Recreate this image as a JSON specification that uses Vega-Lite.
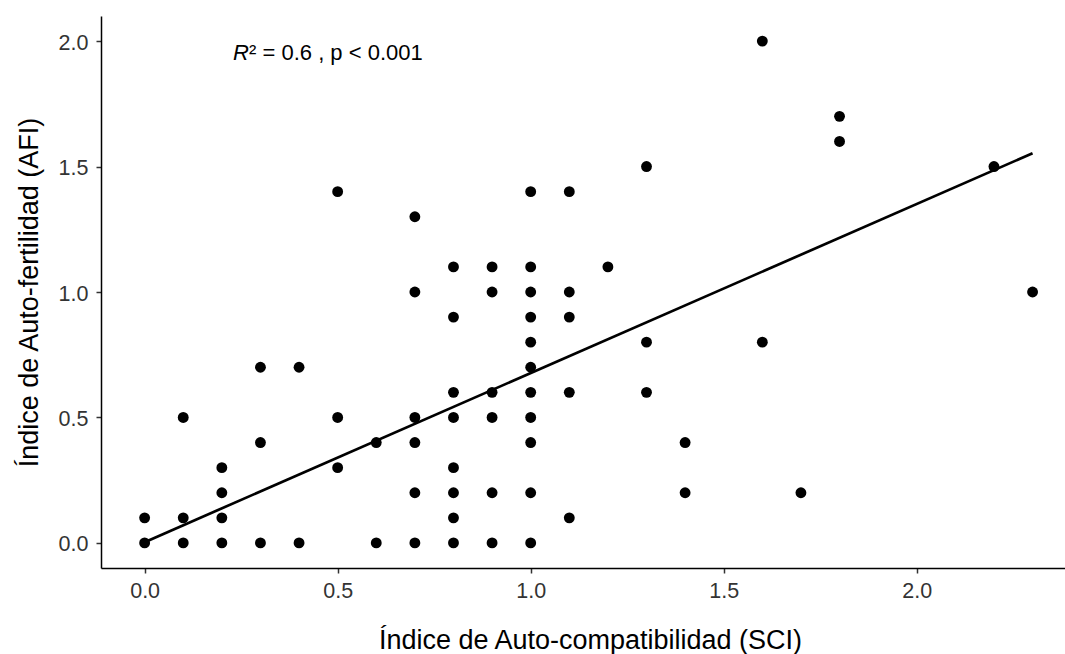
{
  "$schema": "https://vega.github.io/schema/vega-lite/v6.json",
  "autosize": {"type": "none"},
  "padding": {"left": 101, "top": 16, "right": 0, "bottom": 86},
  "width": 964,
  "height": 552,
  "background": "white",
  "config": {
    "view": {"stroke": null},
    "font": "Liberation Sans",
    "axis": {
      "grid": false,
      "domainColor": "#000000",
      "domainWidth": 1.5,
      "tickColor": "#333333",
      "tickWidth": 1.5,
      "tickSize": 5,
      "labelFont": "Liberation Sans",
      "labelFontSize": 21.5,
      "labelColor": "#333333",
      "titleFont": "Liberation Sans",
      "titleFontSize": 27,
      "titleFontWeight": "normal",
      "titleColor": "#000000"
    }
  },
  "datasets": {
    "puntos": [
      {"sci": 0.0, "afi": 0.0}, {"sci": 0.0, "afi": 0.1},
      {"sci": 0.1, "afi": 0.0}, {"sci": 0.1, "afi": 0.1}, {"sci": 0.1, "afi": 0.5},
      {"sci": 0.2, "afi": 0.0}, {"sci": 0.2, "afi": 0.1}, {"sci": 0.2, "afi": 0.2}, {"sci": 0.2, "afi": 0.3},
      {"sci": 0.3, "afi": 0.0}, {"sci": 0.3, "afi": 0.4}, {"sci": 0.3, "afi": 0.7},
      {"sci": 0.4, "afi": 0.0}, {"sci": 0.4, "afi": 0.7},
      {"sci": 0.5, "afi": 0.3}, {"sci": 0.5, "afi": 0.5}, {"sci": 0.5, "afi": 1.4},
      {"sci": 0.6, "afi": 0.0}, {"sci": 0.6, "afi": 0.4},
      {"sci": 0.7, "afi": 0.0}, {"sci": 0.7, "afi": 0.2}, {"sci": 0.7, "afi": 0.4}, {"sci": 0.7, "afi": 0.5}, {"sci": 0.7, "afi": 1.0}, {"sci": 0.7, "afi": 1.3},
      {"sci": 0.8, "afi": 0.0}, {"sci": 0.8, "afi": 0.1}, {"sci": 0.8, "afi": 0.2}, {"sci": 0.8, "afi": 0.3}, {"sci": 0.8, "afi": 0.5}, {"sci": 0.8, "afi": 0.6}, {"sci": 0.8, "afi": 0.9}, {"sci": 0.8, "afi": 1.1},
      {"sci": 0.9, "afi": 0.0}, {"sci": 0.9, "afi": 0.2}, {"sci": 0.9, "afi": 0.5}, {"sci": 0.9, "afi": 0.6}, {"sci": 0.9, "afi": 1.0}, {"sci": 0.9, "afi": 1.1},
      {"sci": 1.0, "afi": 0.0}, {"sci": 1.0, "afi": 0.2}, {"sci": 1.0, "afi": 0.4}, {"sci": 1.0, "afi": 0.5}, {"sci": 1.0, "afi": 0.6}, {"sci": 1.0, "afi": 0.7}, {"sci": 1.0, "afi": 0.8}, {"sci": 1.0, "afi": 0.9}, {"sci": 1.0, "afi": 1.0}, {"sci": 1.0, "afi": 1.1}, {"sci": 1.0, "afi": 1.4},
      {"sci": 1.1, "afi": 0.1}, {"sci": 1.1, "afi": 0.6}, {"sci": 1.1, "afi": 0.9}, {"sci": 1.1, "afi": 1.0}, {"sci": 1.1, "afi": 1.4},
      {"sci": 1.2, "afi": 1.1},
      {"sci": 1.3, "afi": 0.6}, {"sci": 1.3, "afi": 0.8}, {"sci": 1.3, "afi": 1.5},
      {"sci": 1.4, "afi": 0.2}, {"sci": 1.4, "afi": 0.4},
      {"sci": 1.6, "afi": 0.8}, {"sci": 1.6, "afi": 2.0},
      {"sci": 1.7, "afi": 0.2},
      {"sci": 1.8, "afi": 1.6}, {"sci": 1.8, "afi": 1.7},
      {"sci": 2.2, "afi": 1.5},
      {"sci": 2.3, "afi": 1.0}
    ],
    "recta": [
      {"sci": 0.0, "afi": 0.003},
      {"sci": 2.3, "afi": 1.553}
    ]
  },
  "layer": [
    {
      "data": {"name": "puntos"},
      "mark": {"type": "circle", "size": 118, "opacity": 1, "color": "#000000"},
      "encoding": {
        "x": {
          "field": "sci",
          "type": "quantitative",
          "scale": {"domain": [-0.113, 2.384], "nice": false, "zero": false},
          "axis": {
            "title": "Índice de Auto-compatibilidad (SCI)",
            "values": [0, 0.5, 1, 1.5, 2],
            "format": ".1f",
            "labelPadding": 7,
            "titleX": 489,
            "titleY": 80,
            "titleBaseline": "alphabetic",
            "titleAnchor": "middle"
          }
        },
        "y": {
          "field": "afi",
          "type": "quantitative",
          "scale": {"domain": [-0.1, 2.1], "nice": false, "zero": false},
          "axis": {
            "title": "Índice de Auto-fertilidad (AFI)",
            "values": [0, 0.5, 1, 1.5, 2],
            "format": ".1f",
            "labelPadding": 8,
            "labelOffset": 2,
            "titleX": -64,
            "titleBaseline": "alphabetic"
          }
        }
      }
    },
    {
      "data": {"name": "recta"},
      "mark": {"type": "line", "color": "#000000", "strokeWidth": 2.7},
      "encoding": {
        "x": {"field": "sci", "type": "quantitative"},
        "y": {"field": "afi", "type": "quantitative"}
      }
    },
    {
      "data": {"values": [{}]},
      "mark": {"type": "text", "text": "R", "font": "Liberation Sans", "fontSize": 22, "fontStyle": "italic", "align": "left", "baseline": "alphabetic", "color": "#000000"},
      "encoding": {
        "x": {"datum": 0.229, "type": "quantitative"},
        "y": {"datum": 1.925, "type": "quantitative"}
      }
    },
    {
      "data": {"values": [{}]},
      "mark": {"type": "text", "text": "² = 0.6 , p < 0.001", "font": "Liberation Sans", "fontSize": 22, "align": "left", "baseline": "alphabetic", "dx": 16, "color": "#000000"},
      "encoding": {
        "x": {"datum": 0.229, "type": "quantitative"},
        "y": {"datum": 1.925, "type": "quantitative"}
      }
    }
  ]
}
